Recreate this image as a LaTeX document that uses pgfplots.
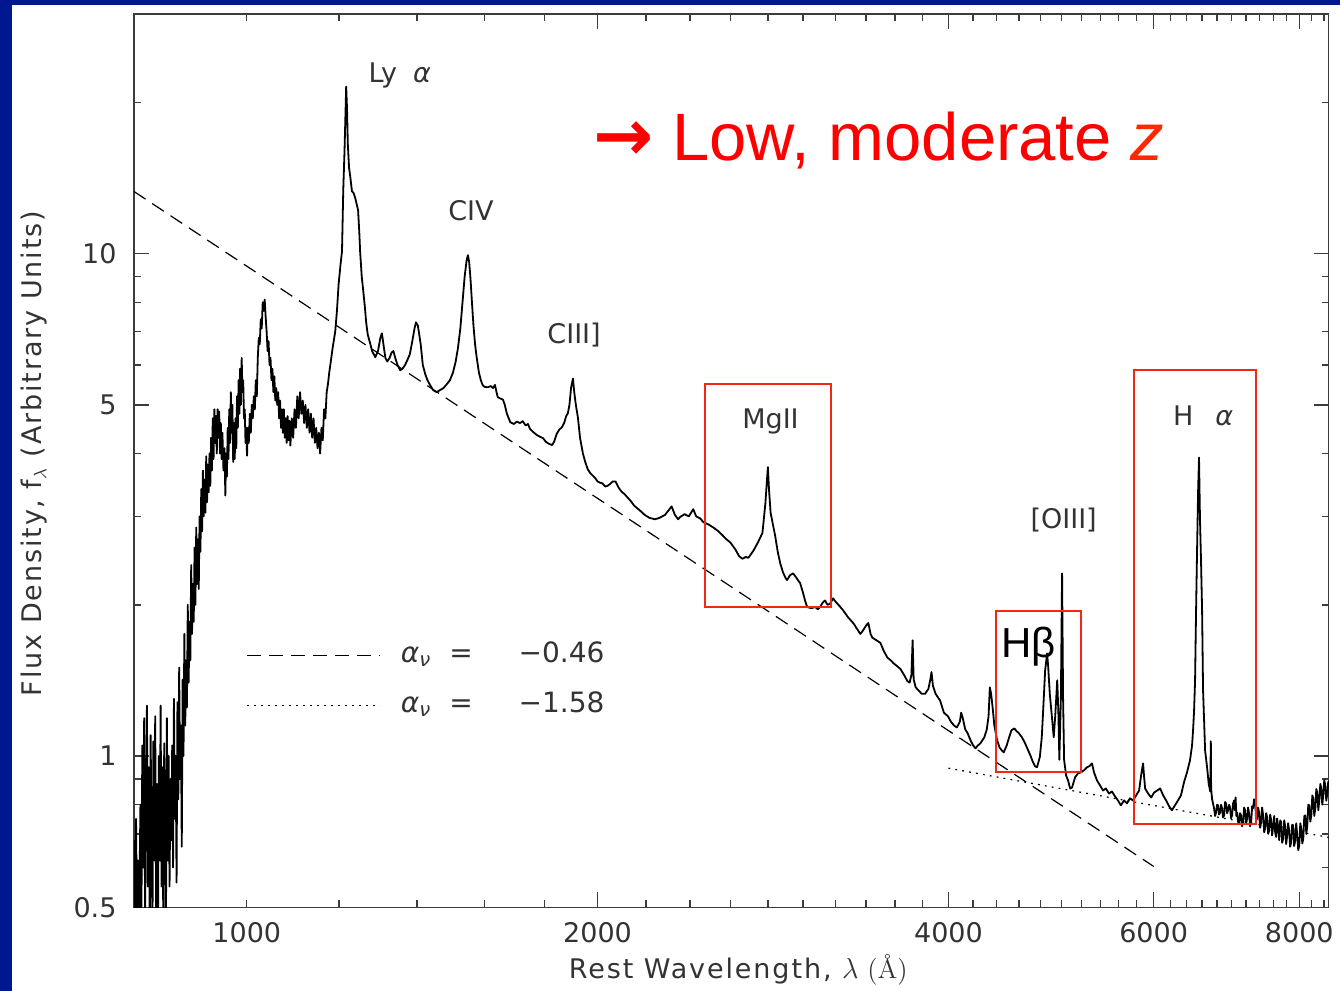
\documentclass[border=0pt]{standalone}
\usepackage{pgfplots}
\pgfplotsset{compat=1.18}
\usepackage{pgfplotstable}
\usepackage{fontspec}
\setmainfont{DejaVu Sans}
\newfontfamily\arialf{Liberation Sans}
\newfontfamily\dejavu{DejaVu Sans}
\newfontfamily\lmfont{Latin Modern Roman}
\newfontfamily\labelfont{DejaVu Sans}[LetterSpace=7]
\definecolor{bgblue}{RGB}{0,24,143}
\definecolor{boxred}{RGB}{240,40,20}
\definecolor{zred}{RGB}{255,40,0}
\definecolor{axisgray}{RGB}{60,60,60}
\newcommand{\fs}{\fontsize{13.5}{16}\selectfont}
\newcommand{\galpha}{{\itshape α}}

\pgfplotstableread{
lambda flux
801 0.68
802 0.42
803.5 0.75
805 0.45
806.5 0.62
808 0.42
809 0.55
810.5 0.80
812 0.45
813.5 1.05
815 0.60
816.5 1.19
818 0.48
819.5 0.82
821 1.26
822.5 0.55
824 0.95
825.5 0.42
827 1.10
828.5 0.70
830 0.45
831.5 1.07
833 0.62
834.5 1.20
836 0.50
837.5 0.88
839 0.42
840.5 1.00
842 0.62
843.5 1.26
845 0.55
846.5 0.95
848 0.45
849.5 1.06
851 0.70
852.5 0.48
854 1.19
855.5 0.62
857 1.00
858.5 0.55
860 0.90
861.5 0.68
863 1.05
864.5 0.60
866 1.30
867.5 0.75
869 1.00
870.5 0.56
872 1.28
873.5 0.82
875 1.50
876.5 0.90
878 1.15
879.5 0.66
881 1.42
882.5 1.00
884 1.75
885.5 1.15
887 1.55
888.5 1.25
890 2.00
891.5 1.40
893 1.85
894.5 1.55
896 2.40
897.5 1.75
899 2.20
900.5 1.85
902 2.60
903.5 2.00
905 2.85
906.5 2.20
908 2.70
909.5 2.15
911 3.00
912.5 2.55
914 3.40
915.5 2.80
917 3.70
918.5 3.00
920 3.55
921.5 3.05
923 3.95
924.5 3.20
926 3.80
927.5 3.35
929 4.00
930.5 3.45
932 4.30
933.5 3.70
935 4.70
936.5 3.90
938 4.90
939.5 4.20
941 4.75
942.5 4.00
944 4.90
945.5 4.30
947 4.85
948.5 4.00
950 4.60
951.5 3.90
953 4.40
955 3.70
957 4.10
958.5 3.30
960 4.00
961.5 3.60
963 4.50
964.5 3.90
966 4.90
967.5 4.20
969 5.30
970.5 4.40
972 5.00
973.5 3.85
975 4.60
976.5 3.90
978 4.70
979.5 4.10
981 5.20
982.5 4.50
984 5.60
985.5 4.80
987 5.90
988.5 5.00
990 6.20
991.5 5.30
993 5.60
994.5 4.70
996 4.90
997.5 4.20
999 4.50
1000.5 3.96
1002 4.50
1004 4.20
1006 4.80
1008 4.40
1010 5.00
1012 4.70
1014 5.20
1016 4.90
1018 5.60
1020 5.20
1022 6.20
1024 6.80
1026 6.60
1028 7.40
1030 7.10
1032 8.00
1034 7.70
1036 8.10
1038 7.50
1040 7.00
1042 6.40
1044 6.70
1046 6.00
1048 6.20
1050 5.60
1052 5.90
1054 5.30
1056 5.70
1058 5.10
1060 5.40
1062 5.00
1064 5.30
1066 4.70
1068 5.10
1070 4.50
1072 4.90
1074 4.40
1076 4.90
1078 4.30
1080 4.70
1082 4.20
1084 4.75
1086 4.25
1088 4.65
1090 4.15
1093 4.70
1096 4.30
1099 4.90
1102 4.50
1105 5.20
1108 4.70
1111 5.30
1114 4.80
1117 5.10
1120 4.60
1123 5.00
1126 4.50
1129 4.90
1132 4.40
1135 4.80
1138 4.30
1141 4.70
1144 4.20
1147 4.50
1150 4.10
1153 4.40
1156 4.00
1159 4.50
1162 4.25
1165 4.90
1168 4.70
1171 5.30
1174 5.50
1177 5.80
1180 6.05
1185 6.50
1191 7.00
1195 7.70
1199 8.70
1204 9.60
1207 10.1
1210 13.4
1213 16.0
1215 18.5
1217 21.5
1219 19.5
1221 16.5
1224 14.8
1227 14.2
1231 13.3
1235 13.2
1239 12.9
1243 12.5
1246 12.2
1249 11.0
1251 10.1
1255 9.0
1259 8.4
1263 7.8
1266 7.3
1270 6.9
1276 6.63
1281 6.4
1289 6.22
1296 6.4
1302 6.8
1306 6.94
1310 6.6
1315 6.2
1320 6.1
1326 6.2
1331 6.35
1336 6.4
1341 6.2
1347 6.0
1354 5.86
1360 5.9
1367 6.0
1373 6.13
1380 6.3
1387 6.7
1393 7.1
1397 7.3
1402 7.2
1406 6.9
1410 6.6
1416 6.0
1423 5.75
1429 5.6
1435 5.5
1445 5.35
1455 5.3
1465 5.35
1475 5.4
1485 5.5
1494 5.6
1503 5.8
1511 6.1
1518 6.5
1525 7.1
1532 8.07
1538 9.0
1544 9.7
1548 9.93
1552 9.6
1556 8.9
1560 8.07
1565 7.2
1570 6.6
1575 6.22
1582 5.8
1588 5.6
1594 5.47
1600 5.43
1610 5.42
1620 5.45
1627 5.40
1633 5.48
1638 5.30
1642 5.18
1650 5.15
1659 5.12
1665 5.0
1672 4.8
1683 4.62
1695 4.58
1705 4.63
1716 4.60
1725 4.64
1735 4.55
1743 4.58
1750 4.48
1760 4.42
1775 4.35
1785 4.32
1796 4.29
1806 4.22
1818 4.18
1828 4.16
1835 4.22
1845 4.38
1855 4.47
1864 4.51
1872 4.60
1880 4.75
1886 4.81
1892 5.00
1898 5.40
1905 5.64
1910 5.30
1916 5.00
1924 4.72
1932 4.30
1943 4.00
1952 3.85
1962 3.72
1971 3.66
1980 3.62
1990 3.58
2000 3.52
2010 3.50
2019 3.49
2030 3.44
2040 3.45
2050 3.48
2060 3.52
2072 3.52
2085 3.42
2097 3.36
2110 3.32
2122 3.27
2135 3.22
2150 3.15
2175 3.08
2195 3.02
2215 2.98
2240 2.96
2261 2.98
2285 3.02
2300 3.08
2315 3.14
2330 3.02
2345 2.96
2354 2.99
2375 3.03
2395 3.00
2416 3.10
2430 3.00
2450 2.97
2465 2.92
2490 2.89
2514 2.85
2540 2.80
2560 2.75
2580 2.70
2600 2.66
2625 2.58
2645 2.50
2662 2.47
2680 2.49
2694 2.48
2720 2.56
2745 2.66
2770 2.78
2786 3.18
2795 3.55
2800 3.76
2806 3.40
2815 3.05
2823 2.95
2840 2.75
2855 2.55
2869 2.42
2885 2.32
2900 2.26
2908 2.24
2925 2.29
2943 2.31
2960 2.27
2975 2.23
2984 2.21
3000 2.12
3015 2.03
3026 1.98
3050 1.97
3075 1.98
3090 1.96
3104 1.98
3120 2.02
3135 2.04
3150 2.00
3166 2.01
3185 2.06
3200 2.03
3225 1.99
3249 1.95
3280 1.89
3314 1.84
3340 1.79
3361 1.75
3380 1.78
3400 1.82
3415 1.84
3430 1.75
3442 1.72
3470 1.70
3497 1.68
3520 1.62
3546 1.57
3570 1.55
3589 1.53
3615 1.51
3639 1.49
3665 1.45
3689 1.41
3705 1.40
3718 1.45
3727 1.70
3735 1.42
3750 1.37
3772 1.35
3795 1.33
3820 1.33
3845 1.36
3860 1.42
3869 1.47
3880 1.38
3900 1.33
3935 1.29
3965 1.22
3997 1.20
4020 1.17
4045 1.15
4067 1.14
4091 1.17
4102 1.22
4115 1.19
4135 1.13
4155 1.11
4179 1.074
4200 1.05
4220 1.036
4240 1.05
4261 1.06
4294 1.09
4315 1.13
4330 1.20
4341 1.37
4352 1.33
4365 1.25
4380 1.15
4402 1.08
4425 1.04
4445 1.026
4462 1.017
4488 1.05
4510 1.09
4530 1.125
4556 1.135
4578 1.12
4598 1.11
4625 1.09
4650 1.065
4675 1.035
4703 1.003
4725 0.975
4747 0.954
4765 0.950
4780 0.975
4792 0.997
4810 1.09
4828 1.29
4842 1.48
4861 1.60
4871 1.51
4887 1.33
4906 1.205
4925 1.09
4940 1.205
4959 1.415
4970 1.23
4980 0.983
4995 1.30
5007 2.31
5017 1.30
5027 0.983
5047 0.915
5067 0.894
5087 0.862
5107 0.866
5137 0.907
5167 0.924
5198 0.928
5229 0.937
5260 0.950
5285 0.955
5312 0.967
5333 0.928
5365 0.894
5397 0.874
5429 0.854
5460 0.862
5493 0.842
5525 0.850
5558 0.832
5591 0.816
5624 0.798
5659 0.816
5692 0.805
5726 0.824
5760 0.816
5796 0.835
5830 0.854
5853 0.915
5876 0.967
5888 0.91
5900 0.862
5935 0.842
5971 0.827
6006 0.846
6042 0.854
6078 0.862
6114 0.835
6150 0.816
6185 0.795
6221 0.780
6258 0.798
6296 0.816
6333 0.835
6371 0.887
6409 0.928
6447 0.980
6473 1.05
6486 1.125
6499 1.23
6512 1.41
6525 1.95
6538 2.57
6551 3.38
6563 3.93
6576 2.95
6589 2.45
6603 1.95
6616 1.35
6629 1.18
6642 1.026
6668 0.950
6690 0.88
6710 0.85
6718 1.07
6722 0.86
6735 0.82
6761 0.787
6775 0.760
6788 0.772
6801 0.800
6815 0.798
6828 0.765
6842 0.772
6855 0.800
6869 0.787
6882 0.755
6896 0.762
6910 0.810
6923 0.805
6937 0.770
6951 0.780
6965 0.800
6978 0.791
6992 0.752
7006 0.762
7020 0.805
7034 0.816
7045 0.780
7055 0.827
7066 0.760
7076 0.772
7090 0.740
7104 0.734
7118 0.770
7132 0.762
7146 0.725
7161 0.738
7175 0.790
7189 0.780
7203 0.735
7218 0.751
7232 0.790
7246 0.769
7260 0.725
7275 0.738
7290 0.795
7304 0.787
7318 0.820
7333 0.816
7347 0.745
7362 0.751
7376 0.790
7391 0.772
7405 0.720
7420 0.738
7435 0.790
7450 0.762
7465 0.705
7479 0.718
7494 0.770
7509 0.755
7524 0.700
7539 0.711
7554 0.765
7569 0.745
7584 0.695
7599 0.724
7614 0.760
7629 0.705
7644 0.690
7659 0.751
7675 0.720
7690 0.680
7705 0.745
7720 0.738
7736 0.672
7751 0.685
7766 0.745
7781 0.724
7797 0.668
7812 0.695
7827 0.735
7843 0.711
7858 0.660
7874 0.674
7890 0.730
7906 0.728
7921 0.662
7937 0.678
7953 0.735
7969 0.695
7985 0.650
8000 0.664
8016 0.735
8032 0.718
8048 0.670
8064 0.685
8080 0.760
8096 0.762
8112 0.700
8128 0.728
8144 0.800
8160 0.798
8176 0.740
8193 0.762
8209 0.835
8225 0.824
8241 0.760
8258 0.787
8274 0.860
8290 0.846
8307 0.780
8323 0.816
8340 0.880
8356 0.862
8372 0.800
8389 0.835
8405 0.895
8422 0.874
8439 0.815
8456 0.842
8472 0.890
8489 0.866
}\spectrum

\begin{document}
\begin{tikzpicture}
\fill[white] (-66.9pt,-41.85pt) rectangle (603.1pt,453.65pt);
\fill[bgblue] (-66.9pt,-41.85pt) rectangle (-60.9pt,453.65pt);
\fill[bgblue] (-66.9pt,451.15pt) rectangle (603.1pt,453.65pt);
\useasboundingbox (-66.9pt,-41.85pt) rectangle (603.1pt,453.65pt);
\begin{axis}[
  at={(0pt,0pt)}, anchor=south west,
  scale only axis, width=597.45pt, height=446.7pt,
  xmode=log, ymode=log,
  xmin=800, xmax=8480, ymin=0.5, ymax=30,
  xtick={2000,4000,6000,8000}, xticklabels={2000,4000,6000,8000},
  extra x ticks={1000}, extra x tick labels={1000},
  extra x tick style={major tick length=3.5pt},
  minor xtick={800,1200,1400,1600,1800,2200,2400,2600,2800,3000,3200,3400,3600,3800,4200,4400,4600,4800,5000,5200,5400,5600,5800,6200,6400,6600,6800,7000,7200,7400,7600,7800,8200,8400},
  ytick={0.5,1,5,10}, yticklabels={0.5,1,5,10},
  minor ytick={0.6,0.7,0.8,0.9,2,3,4,6,7,8,9,20,30},
  major tick length=7.5pt, minor tick length=3.5pt,
  tick align=inside,
  axis line style={axisgray, line width=0.7pt},
  every tick/.style={axisgray, line width=0.7pt},
  xticklabel style={font=\fs, text=black!80, anchor=center, yshift=-12.5pt},
  yticklabel style={font=\fs, text=black!80, anchor=east, inner sep=0pt, xshift=-8.5pt},
  xlabel={Rest Wavelength, {\lmfont $\lambda$ (Å)}},
  ylabel={Flux Density, f$_\lambda$ (Arbitrary Units)},
  every axis x label/.style={at={(axis description cs:0.5059,-0.0702)}, anchor=center, font=\labelfont\fs, text=black!80},
  every axis y label/.style={at={(axis description cs:-0.0831,0.508)}, anchor=center, rotate=90, font=\labelfont\fs, text=black!80},
  legend style={draw=none, fill=none, inner sep=0pt, outer sep=0pt,
    at={(axis description cs:0.0944,0.2535)}, anchor=west, row sep=13.5pt,
    nodes={inner sep=0pt, text height=9pt, text depth=2.5pt, font=\fontsize{14}{16}\selectfont, text=black!80}},
  legend cell align=left,
  legend image code/.code={\draw[#1] (0pt,0pt) -- (66.5pt,0pt); \path (76.5pt,0pt);},
]
\addplot[black, line width=0.9pt, line join=round, forget plot] table[x=lambda, y=flux] {\spectrum};
\addplot[black, line width=0.6pt, dash pattern=on 7pt off 4pt] coordinates {(800,13.3) (6000,0.603)};
\addlegendentry{\galpha\textsubscript{\itshape ν}\hspace{9pt}=\hspace{23pt}−0.46}
\addplot[black, line width=0.6pt, dash pattern=on 0.9pt off 2.6pt] coordinates {(4000,0.946) (8480,0.689)};
\addlegendentry{\galpha\textsubscript{\itshape ν}\hspace{9pt}=\hspace{23pt}−1.58}

\draw[boxred, line width=1pt] (axis cs:2474,5.49) rectangle (axis cs:3173,1.977);
\draw[boxred, line width=1pt] (axis cs:4395,1.941) rectangle (axis cs:5200,0.928);
\draw[boxred, line width=1pt] (axis cs:5774,5.86) rectangle (axis cs:7347,0.734);

\node[anchor=base west, inner sep=0pt, font=\fs, text=black!80] at (axis cs:1271,21.93) {Ly\hspace{8pt}\galpha};
\node[anchor=base west, inner sep=0pt, font=\fs, text=black!80] at (axis cs:1488,11.65) {CIV};
\node[anchor=base west, inner sep=0pt, font=\fs, text=black!80] at (axis cs:1810,6.63) {CIII]};
\node[anchor=base west, inner sep=0pt, font=\fs, text=black!80] at (axis cs:2660,4.49) {MgII};
\node[anchor=base west, inner sep=0pt, font=\fs, text=black!80] at (axis cs:4701,2.836) {[OIII]};
\node[anchor=base west, inner sep=0pt, font=\fs, text=black!80] at (axis cs:6229,4.55) {H\hspace{11pt}\galpha};
\node[anchor=base west, inner sep=0pt, font=\arialf\fontsize{21}{25}\selectfont] at (axis cs:4439,1.572) {Hβ};
\node[anchor=base west, inner sep=0pt, text=red, font=\arialf\fontsize{33.5}{40}\selectfont] at (axis cs:1982,15.34) {{\dejavu\bfseries\fontsize{36}{40}\selectfont →} Low, moderate {\itshape\color{zred}z}};
\end{axis}
\end{tikzpicture}
\end{document}
